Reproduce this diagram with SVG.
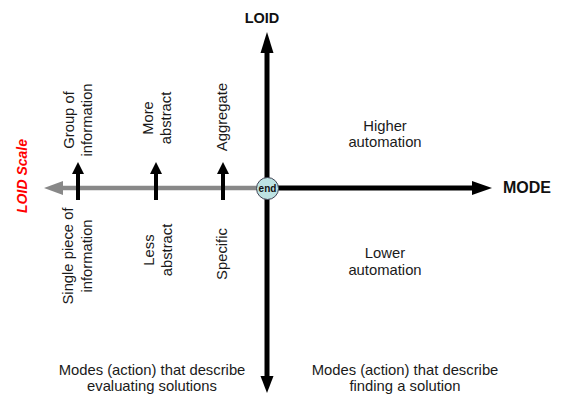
<svg xmlns="http://www.w3.org/2000/svg" width="564" height="395" viewBox="0 0 564 395">
<defs>
<style>
.t{font-family:"Liberation Sans",Arial,sans-serif;font-size:14.8px;fill:#1a1a1a;text-anchor:middle}
.b{font-family:"Liberation Sans",Arial,sans-serif;font-weight:bold;fill:#111;text-anchor:middle}
.ax{stroke:#000;stroke-width:5;fill:none}
.sm{stroke:#000;stroke-width:4;fill:none}
</style>
</defs>
<rect width="564" height="395" fill="#fff"/>
<g id="connectors">
<line x1="267" y1="188" x2="62" y2="188" stroke="#888" stroke-width="4.5"/>
<polygon points="44,188 63,181 63,195" fill="#888"/>
<line class="ax" x1="267" y1="52" x2="267" y2="378"/>
<polygon points="267,32 260.5,53 273.5,53" fill="#000"/>
<polygon points="267,393 260.5,376 273.5,376" fill="#000"/>
<line class="ax" x1="267" y1="188" x2="474" y2="188"/>
<polygon points="492,188 472,181 472,195" fill="#000"/>
<line class="sm" x1="78" y1="200" x2="78" y2="172"/>
<polygon points="78,162 72,174 84,174" fill="#000"/>
<line class="sm" x1="156" y1="200" x2="156" y2="172"/>
<polygon points="156,162 150,174 162,174" fill="#000"/>
<line class="sm" x1="223" y1="200" x2="223" y2="172"/>
<polygon points="223,162 217,174 229,174" fill="#000"/>
</g>
<g id="end">
<circle cx="267.5" cy="188.5" r="11" fill="#bde3e3" stroke="#445" stroke-width="1"/>
<text class="b" x="267.5" y="192" font-size="10">end</text>
</g>
<g id="loid"><text class="b" x="262" y="23" font-size="14.5">LOID</text></g>
<g id="mode"><text class="b" x="527" y="193" font-size="16">MODE</text></g>
<g id="loid-scale"><text transform="translate(27,176) rotate(-90)" x="0" y="0" font-family="Liberation Sans,Arial,sans-serif" font-weight="bold" font-style="italic" font-size="14" fill="#f00" text-anchor="middle">LOID Scale</text></g>
<g id="group-info" transform="translate(74,120) rotate(-90)"><text class="t" x="0" y="0">Group of</text><text class="t" x="0" y="18">information</text></g>
<g id="more-abstract" transform="translate(153,118) rotate(-90)"><text class="t" x="0" y="0">More</text><text class="t" x="0" y="18">abstract</text></g>
<g id="aggregate" transform="translate(227,117) rotate(-90)"><text class="t" x="0" y="0">Aggregate</text></g>
<g id="single-piece" transform="translate(73,256) rotate(-90)"><text class="t" x="0" y="0">Single piece of</text><text class="t" x="0" y="19">information</text></g>
<g id="less-abstract" transform="translate(154,250) rotate(-90)"><text class="t" x="0" y="0">Less</text><text class="t" x="0" y="18">abstract</text></g>
<g id="specific" transform="translate(227,254) rotate(-90)"><text class="t" x="0" y="0">Specific</text></g>
<g id="higher"><text class="t" x="385" y="131">Higher</text><text class="t" x="385" y="147">automation</text></g>
<g id="lower"><text class="t" x="385" y="258">Lower</text><text class="t" x="385" y="275">automation</text></g>
<g id="modes-left"><text class="t" x="152" y="375">Modes (action) that describe</text><text class="t" x="152" y="391">evaluating solutions</text></g>
<g id="modes-right"><text class="t" x="405" y="375">Modes (action) that describe</text><text class="t" x="405" y="391">finding a solution</text></g>
</svg>
